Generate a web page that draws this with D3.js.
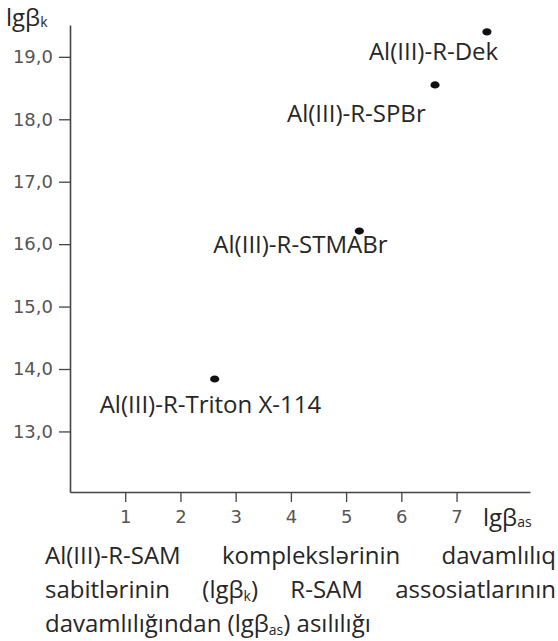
<!DOCTYPE html>
<html>
<head>
<meta charset="utf-8">
<script src="https://cdn.jsdelivr.net/npm/d3@7"></script>
<style>
  body { margin: 0; background: #fff; }
  svg { display: block; }
</style>
</head>
<body>
<div id="chart"></div>
<script>
// data
const complexes = ["Al(III)-R-Dek", "Al(III)-R-SPBr", "Al(III)-R-STMABr", "Al(III)-R-Triton X-114"];
const lgBetaAs = [7.55, 6.61, 5.24, 2.62];
const lgBetaK = [19.40, 18.55, 16.21, 13.84];
const xTicks = [1, 2, 3, 4, 5, 6, 7];
const yTicks = [13, 14, 15, 16, 17, 18, 19];

// label placement relative to its point (start x, baseline)
const labelOffsets = [[-118, 28], [-148, 37], [-146, 22], [-115, 34]];

// caption, "_" marks a subscript part
const captionJustified = [
  ["Al(III)-R-SAM", "komplekslərinin", "davamlılıq"],
  ["sabitlərinin", "(lgβ_k_)", "R-SAM", "assosiatlarının"]
];
const captionLast = "davamlılığından (lgβ_as_) asılılığı";

//chart size
const width = 558;
const height = 641;
const font = "'Open Sans', sans-serif";
const ink = "#262626";

const svg = d3.select("#chart")
  .append("svg")
  .attr("width", width)
  .attr("height", height);

const x = d3.scaleLinear().domain([0, 8.33]).range([70, 530]);
const y = d3.scaleLinear().domain([12.03, 19.51]).range([492, 25]);

//x-axis
const xAxis = svg.append("g")
  .attr("transform", `translate(0,${y.range()[0]})`)
  .call(d3.axisBottom(x).tickValues(xTicks).tickSize(10).tickSizeOuter(0).tickPadding(8));

//y-axis
const yAxis = svg.append("g")
  .attr("transform", `translate(${x.range()[0]},0)`)
  .call(d3.axisLeft(y).tickValues(yTicks).tickSize(11).tickSizeOuter(0).tickPadding(6)
    .tickFormat(d => d.toFixed(1).replace(".", ",")));

[xAxis, yAxis].forEach(g => {
  g.select(".domain").attr("stroke", "#444").attr("stroke-width", 1.6);
  g.selectAll(".tick line").attr("stroke", "#444").attr("stroke-width", 1.3);
  g.selectAll(".tick text")
    .attr("fill", "#555")
    .style("font-family", "'DejaVu Sans', sans-serif")
    .style("font-size", "18px");
});

// points
const points = complexes.map((c, i) => ({ name: c, xv: lgBetaAs[i], yv: lgBetaK[i], off: labelOffsets[i] }));

svg.selectAll(".dot")
  .data(points)
  .enter().append("ellipse")
  .attr("class", "dot")
  .attr("cx", d => x(d.xv))
  .attr("cy", d => y(d.yv))
  .attr("rx", 4.6)
  .attr("ry", 3.6)
  .attr("fill", "#111");

svg.selectAll(".lbl")
  .data(points)
  .enter().append("text")
  .attr("class", "lbl")
  .attr("x", d => x(d.xv) + d.off[0])
  .attr("y", d => y(d.yv) + d.off[1])
  .attr("fill", ink)
  .style("font-family", font)
  .style("font-size", "24px")
  .text(d => d.name);

// text with "_sub_" parts
function addRich(sel, str, size, subSize, shift) {
  const parts = str.split("_");
  parts.forEach((p, i) => {
    if (!p) return;
    const sub = i % 2 === 1;
    sel.append("tspan")
      .attr("dy", sub ? shift : (i > 1 ? -shift : 0))
      .style("font-size", (sub ? subSize : size) + "px")
      .text(p);
  });
  return sel;
}

// axis titles
addRich(svg.append("text").attr("x", 6).attr("y", 26).attr("fill", ink).style("font-family", font),
  "lgβ_k_", 24, 14, 1);
addRich(svg.append("text").attr("x", 483).attr("y", 526).attr("fill", ink).style("font-family", font),
  "lgβ_as_", 24, 14, 1);

// caption
const capLeft = 45, capRight = 556;
const capBase = [564, 598, 632];
const capSize = 24, capSub = 14;

captionJustified.forEach((words, li) => {
  const nodes = words.map(w =>
    addRich(svg.append("text").attr("y", capBase[li]).attr("fill", ink).style("font-family", font), w, capSize, capSub, 3)
  );
  const widths = nodes.map(n => n.node().getComputedTextLength());
  const gap = (capRight - capLeft - d3.sum(widths)) / (words.length - 1);
  let cx = capLeft;
  nodes.forEach((n, i) => {
    n.attr("x", cx);
    cx += widths[i] + gap;
  });
});

addRich(svg.append("text").attr("x", capLeft).attr("y", capBase[2]).attr("fill", ink).style("font-family", font),
  captionLast, capSize, capSub, 3);
</script>
</body>
</html>
